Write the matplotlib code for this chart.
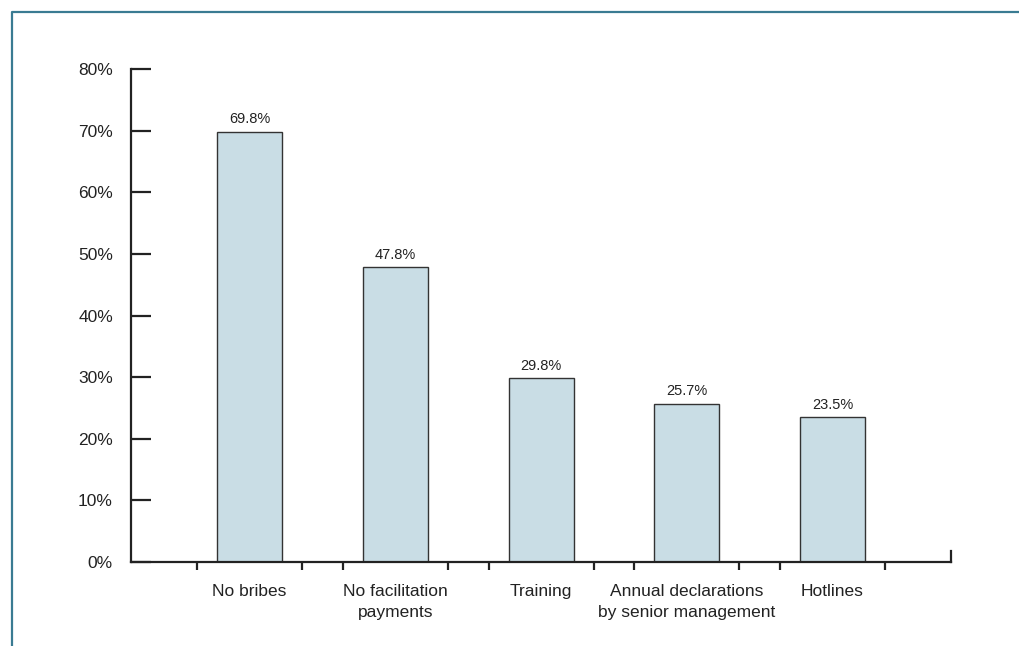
import matplotlib
matplotlib.use("Agg")
import matplotlib.pyplot as plt
from matplotlib.lines import Line2D
from matplotlib.ticker import PercentFormatter, FixedLocator

plt.rcParams["font.family"] = ["Liberation Sans", "DejaVu Sans"]

categories = ["No bribes", "No facilitation\npayments", "Training",
              "Annual declarations\nby senior management", "Hotlines"]
values = [69.8, 47.8, 29.8, 25.7, 23.5]
yticks = [0, 10, 20, 30, 40, 50, 60, 70, 80]

bar_color = "#c9dde5"
ink = "#222222"

fig = plt.figure(figsize=(10.19, 6.46), dpi=100)
ax = fig.add_axes([0.1286, 0.130, 0.8047, 0.7632])

xs = list(range(len(values)))
ax.bar(xs, values, width=0.446, color=bar_color, edgecolor="#333333", linewidth=1.0, zorder=2)

for x, v in zip(xs, values):
    ax.annotate(f"{v:.1f}%", (x, v), xytext=(0, 4), textcoords="offset points",
                ha="center", va="bottom", fontsize=10.5, color=ink)

ax.set_xlim(-0.813, 4.813)
ax.set_ylim(0, 80)
ax.set_yticks(yticks)
ax.yaxis.set_major_formatter(PercentFormatter(decimals=0))

ax.set_xticks(xs)
ax.set_xticklabels(categories, fontsize=12.5, color=ink, linespacing=1.5)
ax.xaxis.set_minor_locator(FixedLocator([x + d for x in xs for d in (-0.36, 0.36)]))
ax.tick_params(axis="x", which="major", length=0, pad=16)
ax.tick_params(axis="x", which="minor", direction="out", length=6, width=1.6, color=ink)
ax.tick_params(axis="y", direction="in", length=14.5, width=1.6, color=ink,
               labelsize=12.5, labelcolor=ink, pad=13)

for side in ("top", "right"):
    ax.spines[side].set_visible(False)
for side in ("left", "bottom"):
    ax.spines[side].set_linewidth(1.6)
    ax.spines[side].set_color(ink)

# short upward stub at the right end of the x axis
ax.axvline(4.813, ymin=0, ymax=11 / 493, color=ink, linewidth=1.6, clip_on=False)

# teal frame, cropped on the right and bottom
frame_x = 11.5 / 1019
frame_y = 1 - 11.5 / 646
fig.add_artist(Line2D([frame_x, frame_x, 1], [0, frame_y, frame_y],
                      transform=fig.transFigure, color="#3a7b92", linewidth=1.6))

fig.savefig("out.png", dpi=100, facecolor="white")
